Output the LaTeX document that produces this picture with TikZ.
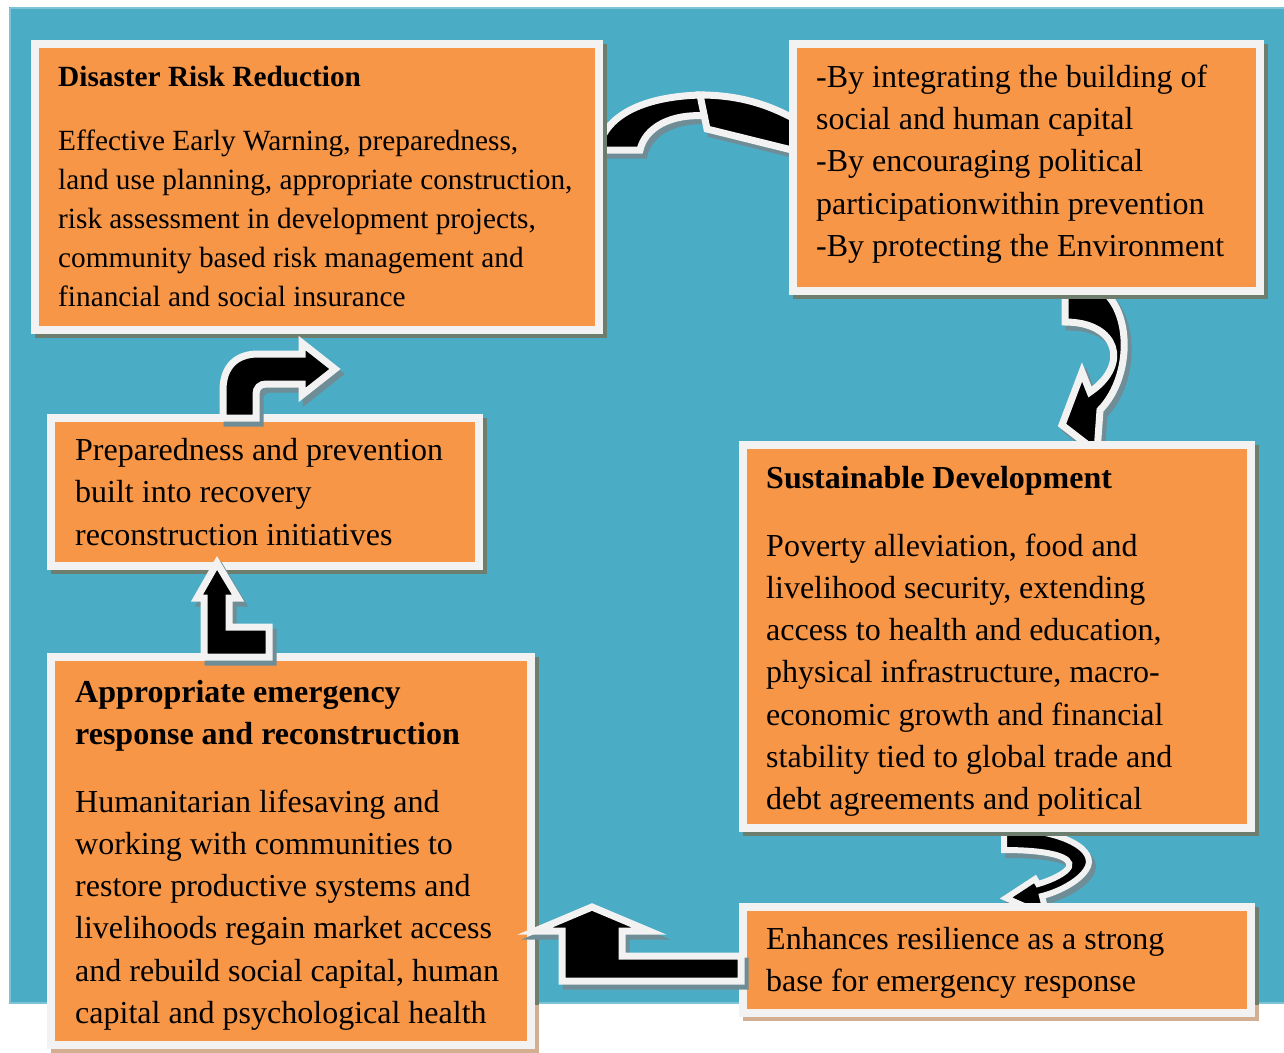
\documentclass[tikz,border=0pt]{standalone}
\usepackage{fontspec}
\setmainfont{Liberation Serif}
\definecolor{seablue}{HTML}{4BACC6}
\definecolor{seaedge}{HTML}{7CC3D6}
\definecolor{boxorange}{HTML}{F79646}
\definecolor{rimwhite}{HTML}{F2F2F2}
\definecolor{shadeteal}{HTML}{6E7E6E}
\definecolor{shadewhite}{HTML}{D4AE90}
\definecolor{arrowshade}{HTML}{6F8D96}
\tikzset{
  card/.style={draw=rimwhite, fill=boxorange, line width=8pt, inner sep=0pt, outer sep=0pt},
  blockarrow/.style={draw=rimwhite, fill=black, line width=7pt, line join=miter, miter limit=10},
  arrowshadow/.style={draw=arrowshade, fill=arrowshade, line width=7pt, line join=miter, miter limit=10, shift={(4,5)}},
  bigtext/.style={anchor=base west, inner sep=0pt, font=\fontsize{32}{40}\selectfont},
  smalltext/.style={anchor=base west, inner sep=0pt, font=\fontsize{29.3}{36}\selectfont},
  bigtitle/.style={bigtext, font=\fontsize{32}{40}\selectfont\bfseries},
  smalltitle/.style={smalltext, font=\fontsize{29.3}{36}\selectfont\bfseries},
}
% shadow rectangles of the six cards (offset down-right)
\newcommand\cardshadows[1]{%
  \fill[#1] (35,44) rectangle (607,338);
  \fill[#1] (793,44) rectangle (1268,299);
  \fill[#1] (743,445) rectangle (1259,836);
  \fill[#1] (743,907) rectangle (1259,1021);
  \fill[#1] (51,657) rectangle (539,1053);
  \fill[#1] (51,418) rectangle (487,574);
}
% block arrow outlines
\newcommand\arrowAband{(598,150) .. controls (605,112) and (650,96) .. (702,95)
  -- (708,116) .. controls (670,113) and (645,128) .. (640,150) -- cycle}
\newcommand\arrowAhead{(700,95) .. controls (742,95) and (772,106) .. (800,122)
  -- (800,152) -- (707,129) -- cycle}
\newcommand\arrowB{(1065,286) -- (1095,286) .. controls (1132,303) and (1134,375) .. (1100,410)
  -- (1097,452) -- (1062,425) -- (1082,372) -- (1090,392)
  .. controls (1130,365) and (1118,322) .. (1065,322) -- cycle}
\newcommand\arrowC{(1004,829) .. controls (1062,829) and (1100,850) .. (1086,870)
  .. controls (1078,882) and (1058,892) .. (1042,896) -- (1047,916) -- (1006,898)
  -- (1035,879) -- (1038,884) .. controls (1052,880) and (1066,873) .. (1069,867)
  .. controls (1073,857) and (1050,850) .. (1004,850) -- cycle}
\newcommand\arrowD{(741,956) -- (622,956) -- (622,931) -- (649,931) -- (592,907)
  -- (535,931) -- (562,931) -- (562,981) -- (741,981) -- cycle}
\newcommand\arrowE{(204,657) -- (204,598) -- (197,598) -- (217,563) -- (238,598)
  -- (229,598) -- (229,627) -- (269,627) -- (269,657) -- cycle}
\newcommand\arrowF{(223,418) -- (223,390) .. controls (223,368) and (235,354) .. (258,354)
  -- (302,354) -- (302,343) -- (335,369) -- (302,395) -- (302,384) -- (266,384)
  .. controls (260,384) and (256,388) .. (256,394) -- (256,418) -- cycle}
\begin{document}
\begin{tikzpicture}[x=1pt, y=-1pt]
  \useasboundingbox (0,0) rectangle (1284,1052);
  \fill[white] (0,0) rectangle (1284,1052);
  \fill[seablue] (9,7) rectangle (1284,1004);
  \draw[seaedge, line width=2pt] (10,8) -- (1284,8);
  \draw[seaedge, line width=2pt] (10,8) -- (10,1003) -- (1284,1003);

  % arrows that pass beneath the cards
  \path[arrowshadow] \arrowAband;
  \path[arrowshadow] \arrowAhead;
  \path[arrowshadow] \arrowB;
  \path[arrowshadow, line width=6pt] \arrowC;
  \path[blockarrow] \arrowAband;
  \path[blockarrow] \arrowAhead;
  \path[blockarrow] \arrowB;
  \path[blockarrow, line width=6pt] \arrowC;

  % card shadows: tan on white, dark on the blue ground
  \cardshadows{shadewhite}
  \begin{scope}
    \clip (9,7) rectangle (1284,1004);
    \cardshadows{shadeteal}
  \end{scope}

  % cards
  \node[card, minimum width=564, minimum height=286] (drr) at (317,187) {};
  \node[card, minimum width=467, minimum height=247] (ways) at (1026.5,167.5) {};
  \node[card, minimum width=508, minimum height=383] (sd) at (997,636.5) {};
  \node[card, minimum width=508, minimum height=106] (res) at (997,960) {};
  \node[card, minimum width=480, minimum height=388] (emg) at (291,851) {};
  \node[card, minimum width=428, minimum height=148] (prep) at (265,492) {};

  % arrows drawn over the cards
  \path[arrowshadow] \arrowD;
  \path[arrowshadow] \arrowE;
  \path[arrowshadow] \arrowF;
  \path[blockarrow] \arrowD;
  \path[blockarrow] \arrowE;
  \path[blockarrow] \arrowF;

  % Disaster Risk Reduction
  \node[smalltitle] (drrT) at (58,86) {Disaster Risk Reduction};
  \foreach \s [count=\i from 0] in {{Effective Early Warning, preparedness,},{land use planning, appropriate construction,},{risk assessment in development projects,},{community based risk management and},{financial and social insurance}}
    \node[smalltext] (drr\i) at (58,{150+39*\i}) {\s};

  % ways of integration
  \foreach \s [count=\i from 0] in {{-By integrating the building of},{social and human capital},{-By encouraging political},{participationwithin prevention},{-By protecting the Environment}}
    \node[bigtext] (ways\i) at (816,{87+42.4*\i}) {\s};

  % Sustainable Development
  \node[bigtitle] (sdT) at (766,488) {Sustainable Development};
  \foreach \s [count=\i from 0] in {{Poverty alleviation, food and},{livelihood security, extending},{access to health and education,},{physical infrastructure, macro-},{economic growth and financial},{stability tied to global trade and},{debt agreements and political}}
    \node[bigtext] (sd\i) at (766,{556+42.3*\i}) {\s};

  % resilience
  \foreach \s [count=\i from 0] in {{Enhances resilience as a strong},{base for emergency response}}
    \node[bigtext] (res\i) at (766,{949+42.5*\i}) {\s};

  % emergency response
  \foreach \s [count=\i from 0] in {{Appropriate emergency},{response and reconstruction}}
    \node[bigtitle] (emgT\i) at (75,{702+42.3*\i}) {\s};
  \foreach \s [count=\i from 0] in {{Humanitarian lifesaving and},{working with communities to},{restore productive systems and},{livelihoods regain market access},{and rebuild social capital, human},{capital and psychological health}}
    \node[bigtext] (emg\i) at (75,{812+42.3*\i}) {\s};

  % preparedness
  \foreach \s [count=\i from 0] in {{Preparedness and prevention},{built into recovery},{reconstruction initiatives}}
    \node[bigtext] (prep\i) at (75,{460+42.5*\i}) {\s};
\end{tikzpicture}
\end{document}
